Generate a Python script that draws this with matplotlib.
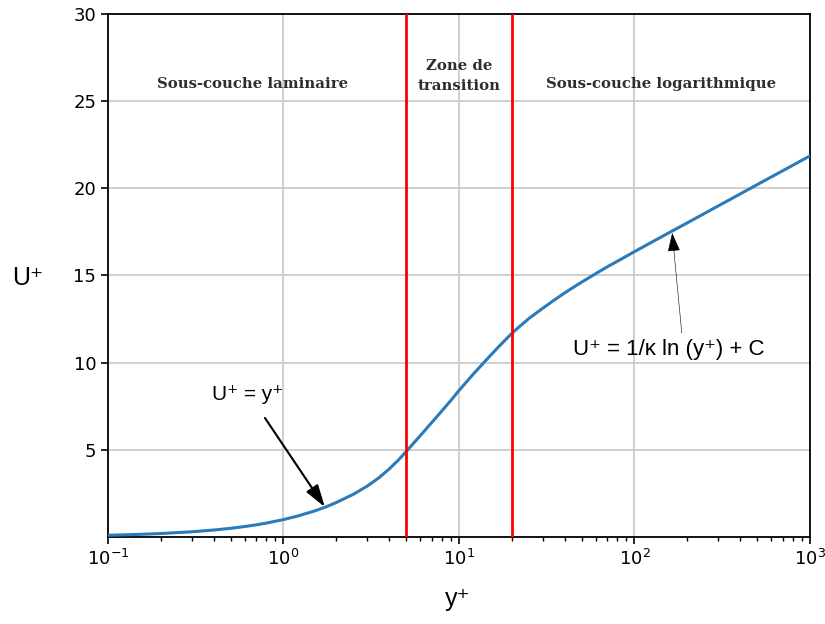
import matplotlib
matplotlib.use("Agg")
import matplotlib.pyplot as plt
import numpy as np

# valeurs
y_plus = [0.1, 0.15, 0.2, 0.3, 0.4, 0.5, 0.6, 0.7, 0.8, 1, 1.2, 1.5, 1.75, 2, 2.5, 3,
          3.5, 4, 4.5, 5, 6, 7, 8, 9, 10, 12, 15, 17, 20, 22, 25, 30, 35, 40, 45, 50,
          60, 70, 80, 100, 150, 200, 300, 500, 700, 1000]
u_plus = [0.1, 0.15, 0.2, 0.3, 0.4, 0.5, 0.6, 0.7, 0.8, 1.0, 1.2, 1.49, 1.73, 1.98, 2.45,
          2.92, 3.4, 3.9, 4.4, 4.9, 5.8, 6.57, 7.24, 7.84, 8.4, 9.32, 10.38, 10.96,
          11.68, 12.05, 12.53, 13.12, 13.6, 14.0, 14.33, 14.62, 15.1, 15.5, 15.82,
          16.37, 17.34, 18.02, 18.99, 20.21, 21.01, 21.86]
limites = [5, 20]
zones = ["Sous-couche laminaire", "Zone de\ntransition", "Sous-couche logarithmique"]
zones_x = [0.67, 10, 142]
zones_y = [26.0, 26.45, 26.0]
yticks = [5, 10, 15, 20, 25, 30]

sans = ["Liberation Sans", "DejaVu Sans"]

fig = plt.figure(figsize=(8.25, 6.24), dpi=100)
ax = fig.add_axes([0.1309, 0.1394, 0.8509, 0.8382])

ax.plot(y_plus, u_plus, color="#2b7bba", lw=2.2, zorder=3)
for x in limites:
    ax.axvline(x, color="red", lw=2, zorder=4)

ax.set_xscale("log")
ax.set_xlim(0.1, 1000)
ax.set_ylim(0, 30)
ax.set_yticks(yticks)
ax.grid(True, which="major", color="#c8c8c8", lw=1.2)
ax.tick_params(labelsize=13, length=5, width=1.2)
ax.tick_params(which="minor", length=3, width=1)
for s in ax.spines.values():
    s.set_linewidth(1.3)

ax.set_xlabel("y⁺", family=sans, fontsize=18)
ax.xaxis.set_label_coords(0.4986, -0.095)
ax.set_ylabel("U⁺", family=sans, fontsize=18, rotation=0, va="center")
ax.yaxis.set_label_coords(-0.114, 0.495)

for txt, x, y in zip(zones, zones_x, zones_y):
    ax.text(x, y, txt, ha="center", va="center", family="DejaVu Serif",
            weight="bold", fontsize=10.7, color="#2e2e2e", linespacing=1.5)

# annotations : texte et fleche places separement
ax.text(0.39, 8.15, "U⁺ = y⁺", family=sans, fontsize=15, va="center", ha="left")
ax.annotate("", xy=(1.72, 1.72), xytext=(0.784, 6.83),
            arrowprops=dict(arrowstyle="-|>,head_width=0.42,head_length=1.35",
                            color="black", lw=1.5, shrinkA=0, shrinkB=0))
ax.text(157, 10.73, "U⁺ = 1/κ ln (y⁺) + C", family=sans, fontsize=16,
        va="center", ha="center")
ax.annotate("", xy=(164, 17.44), xytext=(186, 11.7),
            arrowprops=dict(arrowstyle="-|>,head_width=0.4,head_length=1.2",
                            color="black", lw=0.4, shrinkA=0, shrinkB=0))

fig.savefig("out.png", dpi=100)
